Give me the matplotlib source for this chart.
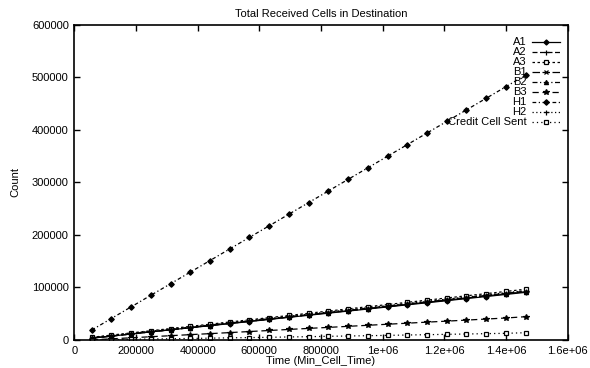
import matplotlib
matplotlib.use("Agg")
import matplotlib.pyplot as plt
from matplotlib.lines import Line2D

plt.rcParams['font.family'] = ['Liberation Sans', 'DejaVu Sans']

# Sample times (Min_Cell_Time units)
times = [56000, 120000, 184000, 248000, 312000, 376000, 440000, 504000,
         568000, 632000, 696000, 760000, 824000, 888000, 952000, 1016000,
         1080000, 1144000, 1208000, 1272000, 1336000, 1400000, 1464000]

# Received cell counts per source
A1 = [3500, 7400, 11400, 15400, 19300, 23300, 27300, 31200, 35200, 39200, 43200,
      47100, 51100, 55100, 59000, 63000, 67000, 70900, 74900, 78900, 82800, 86800, 90800]
A2 = [3600, 7600, 11700, 15800, 19800, 23900, 28000, 32000, 36100, 40200, 44200,
      48300, 52400, 56400, 60500, 64600, 68600, 72700, 76800, 80800, 84900, 89000, 93000]
A3 = [5100, 9300, 13500, 17600, 21800, 25900, 30100, 34300, 38400, 42600, 46700,
      50900, 55100, 59200, 63400, 67500, 71700, 75900, 80000, 84200, 88300, 92500, 96700]
B1 = [3500, 7500, 11500, 15600, 19600, 23600, 27600, 31700, 35700, 39700, 43700,
      47800, 51800, 55800, 59800, 63900, 67900, 71900, 75900, 80000, 84000, 88000, 92000]
B2 = [3400, 7400, 11500, 15500, 19500, 23500, 27600, 31600, 35600, 39600, 43700,
      47700, 51700, 55700, 59800, 63800, 67800, 71800, 75900, 79900, 83900, 87900, 92000]
B3 = [200, 2200, 4200, 6200, 8200, 10200, 12100, 14100, 16100, 18100, 20100,
      22100, 24000, 26000, 28000, 30000, 32000, 34000, 35900, 37900, 39900, 41900, 44400]
H1 = [18800, 40900, 63000, 85100, 107100, 129200, 151300, 173400, 195500, 217500, 239600,
      261700, 283800, 305900, 327900, 350000, 372100, 394200, 416300, 438300, 460400, 482500, 504600]
H2 = [4300, 8400, 12500, 16600, 20600, 24700, 28800, 32900, 37000, 41000, 45100,
      49200, 53300, 57400, 61400, 65500, 69600, 73700, 77800, 81800, 85900, 90000, 94100]
Credit = [300, 700, 1300, 1900, 2400, 2900, 3500, 4100, 4600, 5100, 5800,
          6300, 7000, 7600, 8200, 8800, 9500, 10100, 10800, 11400, 12100, 12700, 13900]

labels = ["A1", "A2", "A3", "B1", "B2", "B3", "H1", "H2", "Credit Cell Sent"]
series = [A1, A2, A3, B1, B2, B3, H1, H2, Credit]

styles = [
    dict(marker='D', ms=2.6, mfc='black', dashes=()),
    dict(marker='+', ms=3.6, mfc='black', dashes=(4, 2)),
    dict(marker='s', ms=3.0, mfc='white', dashes=(2, 2)),
    dict(marker='x', ms=3.0, mfc='black', dashes=(6, 2)),
    dict(marker='^', ms=3.0, mfc='black', dashes=(4, 2, 1, 2)),
    dict(marker='*', ms=4.0, mfc='black', dashes=(5, 3)),
    dict(marker='D', ms=2.8, mfc='black', dashes=(3, 2, 1, 2)),
    dict(marker='+', ms=3.6, mfc='black', dashes=(1, 2)),
    dict(marker='s', ms=3.0, mfc='white', dashes=(1, 2.5)),
]

fig = plt.figure(figsize=(5.9, 3.68), dpi=100)
ax = fig.add_axes([0.126, 0.0761, 0.836, 0.856])

handles = []
for lab, vals, st in zip(labels, series, styles):
    kw = dict(color='black', lw=0.9, marker=st['marker'], markersize=st['ms'],
              mfc=st['mfc'], mec='black', mew=0.9)
    ln, = ax.plot(times, vals, **kw)
    h = Line2D([], [], **kw)
    if st['dashes']:
        ln.set_dashes(st['dashes'])
        h.set_dashes(st['dashes'])
    handles.append(h)

ax.set_xlim(0, 1600000)
ax.set_ylim(0, 600000)
ax.set_xticks([0, 200000, 400000, 600000, 800000, 1000000, 1200000, 1400000, 1600000])
ax.set_xticklabels(["0", "200000", "400000", "600000", "800000", "1e+06",
                    "1.2e+06", "1.4e+06", "1.6e+06"])
ax.set_yticks([0, 100000, 200000, 300000, 400000, 500000, 600000])
ax.set_yticklabels(["0", "100000", "200000", "300000", "400000", "500000", "600000"])
ax.tick_params(direction='in', length=4, width=1.0, top=True, right=True,
               labelsize=8, pad=4)
for sp in ax.spines.values():
    sp.set_linewidth(1.2)

ax.set_title("Total Received Cells in Destination", fontsize=8, pad=6)
ax.set_xlabel("Time (Min_Cell_Time)", fontsize=8, labelpad=0)
ax.set_ylabel("Count", fontsize=8, labelpad=8)

ax.legend(handles, labels, loc='upper right', frameon=False, markerfirst=False,
          fontsize=8, handlelength=2.5, handletextpad=0.5, labelspacing=0.0,
          borderaxespad=0.3, bbox_to_anchor=(1.0, 0.985))

fig.savefig("out.png", dpi=100)
